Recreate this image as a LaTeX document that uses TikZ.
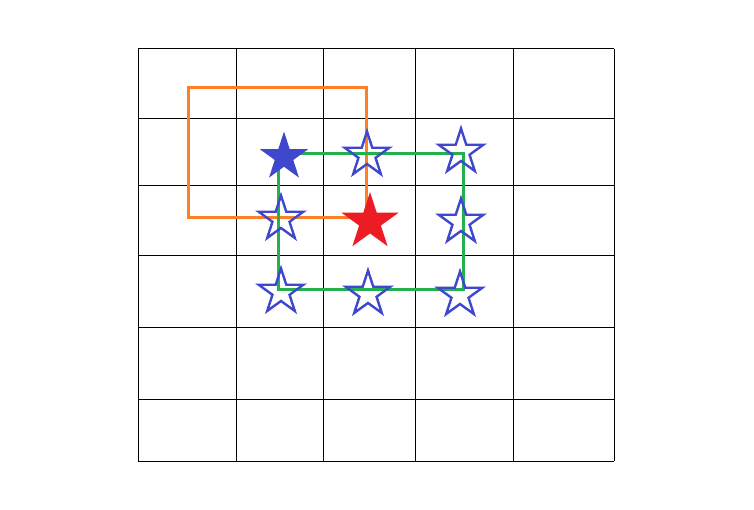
\documentclass[tikz,border=0pt]{standalone}
\usetikzlibrary{shapes.geometric, backgrounds}

\definecolor{paintblue}{RGB}{63,72,204}
\definecolor{paintred}{RGB}{237,28,36}
\definecolor{paintorange}{RGB}{255,127,39}
\definecolor{paintgreen}{RGB}{34,177,76}

\begin{document}
\begin{tikzpicture}[x=1pt, y=-1pt,
    starmark/.style={star, star points=5, star point ratio=2.618, inner sep=0pt},
    hollowstar/.style={starmark, draw=paintblue, line width=2.4pt, minimum size=47pt},
    bluestar/.style={starmark, fill=paintblue, minimum size=51pt},
    redstar/.style={starmark, fill=paintred, minimum size=60pt}]
    \useasboundingbox (0,0) rectangle (754,510);

    \node[bluestar]   (s11) at (284,157) {};
    \node[hollowstar] (s12) at (367,155) {};
    \node[hollowstar] (s13) at (461,152) {};

    \node[hollowstar] (s21) at (281,219) {};
    \node[redstar]    (s22) at (370,222) {};
    \node[hollowstar] (s23) at (461,222) {};

    \node[hollowstar] (s31) at (281,292) {};
    \node[hollowstar] (s32) at (368,294) {};
    \node[hollowstar] (s33) at (460,295) {};

    \begin{scope}[on background layer]
        \foreach \x in {138,236,323,415,513,614}
            \draw[line width=1pt] (\x,49) -- (\x,461);
        \foreach \y in {49,119,186,256,327,399,461}
            \draw[line width=1pt] (138,\y) -- (614,\y);

        \coordinate (o1) at (188,88);
        \coordinate (o2) at (366,218);
        \draw[paintorange, line width=3pt]
            (o1) -- (o1 -| o2) -- (o2) -- (o2 -| o1) -- cycle;

        \draw[paintgreen, line width=3pt]
            (278,154) -- (463,154) -- (463,290) -- (278,290) -- cycle;
    \end{scope}
\end{tikzpicture}
\end{document}
